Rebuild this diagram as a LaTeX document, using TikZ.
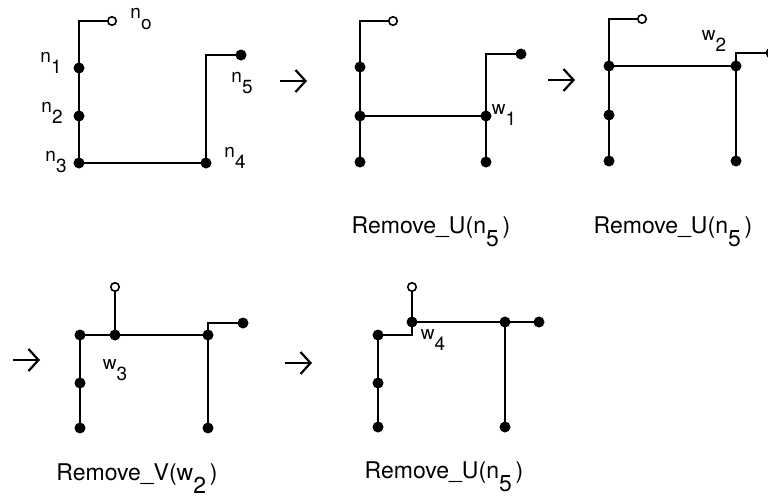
\documentclass[tikz,border=0pt]{standalone}
\usepackage{fontspec}
\setmainfont{TeX Gyre Heros}
\usetikzlibrary{arrows.meta, backgrounds}
\newcommand{\sbx}[1]{\raisebox{-0.6em}{#1}}

\begin{document}
\begin{tikzpicture}[
    x=1pt, y=-1pt,
    wire/.style={line width=2.8pt},
    dot/.style={circle, fill=black, inner sep=0pt, minimum size=11pt},
    odot/.style={circle, draw=black, fill=white, line width=1.6pt, inner sep=0pt, minimum size=8.5pt},
    lbl/.style={inner sep=0pt, font=\fontsize{19}{19}\selectfont},
    caption/.style={inner sep=0pt, anchor=base, font=\fontsize{23}{23}\selectfont},
    stepto/.style={-{Straight Barb[length=10pt, width=22pt]}, line width=2.2pt}
]
\useasboundingbox (0,0) rectangle (768,498);

% Panel 1: initial tree
\node[odot] (a-n0) at (112,21) {};
\coordinate (a-k0) at (79,21);
\node[dot] (a-n1) at (79,68) {};
\node[dot] (a-n2) at (79,116) {};
\node[dot] (a-n3) at (79,163) {};
\node[dot] (a-n4) at (206,163) {};
\coordinate (a-k5) at (206,55);
\node[dot] (a-n5) at (241,55) {};

\node[lbl] (a-l0) at (141,19) {n\sbx{o}};
\node[lbl] (a-l1) at (51,63) {n\sbx{1}};
\node[lbl] (a-l2) at (52,113) {n\sbx{2}};
\node[lbl] (a-l3) at (56,162) {n\sbx{3}};
\node[lbl] (a-l4) at (235,158) {n\sbx{4}};
\node[lbl] (a-l5) at (242,83) {n\sbx{5}};

% Panel 2
\node[odot] (b-n0) at (393,21) {};
\coordinate (b-k0) at (360,21);
\node[dot] (b-n1) at (360,67) {};
\node[dot] (b-j) at (360,116) {};
\node[dot] (b-n3) at (360,162) {};
\node[dot] (b-w1) at (486,116) {};
\node[dot] (b-n4) at (486,162) {};
\coordinate (b-k5) at (486,54);
\node[dot] (b-n5) at (521,54) {};

\node[lbl] (b-lw) at (504,115) {w\sbx{1}};
\node[caption] (b-cap) at (431,233) {Remove\_U(n\sbx{5}\,)};

% Panel 3
\node[odot] (c-n0) at (642,19) {};
\coordinate (c-k0) at (609,19);
\node[dot] (c-j) at (609,66) {};
\node[dot] (c-n2) at (609,115) {};
\node[dot] (c-n3) at (609,161) {};
\node[dot] (c-w2) at (736,66) {};
\node[dot] (c-n4) at (736,161) {};
\coordinate (c-k5) at (736,53);
\node[dot] (c-n5) at (771,53) {};

\node[lbl] (c-lw) at (714,41) {w\sbx{2}};
\node[caption] (c-cap) at (673,233) {Remove\_U(n\sbx{5}\,)};

% Panel 4
\node[odot] (d-n0) at (115,287) {};
\node[dot] (d-w3) at (115,335) {};
\node[dot] (d-j) at (80,335) {};
\node[dot] (d-n2) at (80,383) {};
\node[dot] (d-n3) at (80,428) {};
\node[dot] (d-r) at (208,335) {};
\node[dot] (d-n4) at (208,428) {};
\coordinate (d-k5) at (208,323);
\node[dot] (d-n5) at (243,323) {};

\node[lbl] (d-lw) at (115,370) {w\sbx{3}};
\node[caption] (d-cap) at (137,480) {Remove\_V(w\sbx{2}\,)};

% Panel 5
\node[odot] (e-n0) at (412,287) {};
\node[dot] (e-w4) at (412,322) {};
\coordinate (e-k) at (412,335);
\node[dot] (e-j) at (378,335) {};
\node[dot] (e-n2) at (378,383) {};
\node[dot] (e-n3) at (378,427) {};
\node[dot] (e-r) at (505,322) {};
\node[dot] (e-n4) at (505,427) {};
\node[dot] (e-n5) at (539,322) {};

\node[lbl] (e-lw) at (433,340) {w\sbx{4}};
\node[caption] (e-cap) at (444,478) {Remove\_U(n\sbx{5}\,)};

% Wires behind the dots
\begin{scope}[on background layer]
\draw[wire] (a-n0.center) -- (a-k0) -- (a-n1.center) -- (a-n2.center) -- (a-n3.center) -- (a-n4.center) -- (a-k5) -- (a-n5.center);

\draw[wire] (b-n0.center) -- (b-k0) -- (b-n1.center) -- (b-j.center) -- (b-n3.center);
\draw[wire] (b-j.center) -- (b-w1.center) -- (b-n4.center);
\draw[wire] (b-w1.center) -- (b-k5) -- (b-n5.center);

\draw[wire] (c-n0.center) -- (c-k0) -- (c-j.center) -- (c-n2.center) -- (c-n3.center);
\draw[wire] (c-j.center) -- (c-w2.center) -- (c-n4.center);
\draw[wire] (c-w2.center) -- (c-k5) -- (c-n5.center);

\draw[wire] (d-n0.center) -- (d-w3.center);
\draw[wire] (d-j.center) -- (d-w3.center) -- (d-r.center);
\draw[wire] (d-j.center) -- (d-n2.center) -- (d-n3.center);
\draw[wire] (d-r.center) -- (d-n4.center);
\draw[wire] (d-r.center) -- (d-k5) -- (d-n5.center);

\draw[wire] (e-n0.center) -- (e-w4.center) -- (e-k) -- (e-j.center) -- (e-n2.center) -- (e-n3.center);
\draw[wire] (e-w4.center) -- (e-r.center) -- (e-n5.center);
\draw[wire] (e-r.center) -- (e-n4.center);
\end{scope}

% Step arrows
\coordinate (s1) at (280,81);
\coordinate (t1) at (307,81);
\coordinate (s2) at (548,80);
\coordinate (t2) at (575,80);
\coordinate (s3) at (13,360);
\coordinate (t3) at (40,360);
\coordinate (s4) at (285,363);
\coordinate (t4) at (312,363);
\draw[stepto] (s1) -- (t1);
\draw[stepto] (s2) -- (t2);
\draw[stepto] (s3) -- (t3);
\draw[stepto] (s4) -- (t4);

\end{tikzpicture}
\end{document}
